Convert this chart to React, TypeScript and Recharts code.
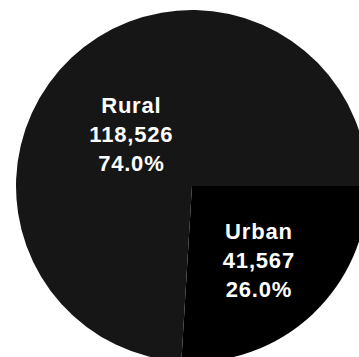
import React from 'react'
import { PieChart, Pie, Cell } from 'recharts'

const categories = ['Urban', 'Rural']
const populations = [41567, 118526]
const sliceColors = ['#000000', '#161616']

const pieData = categories.map((name, i) => ({ name, value: populations[i] }))
const total = populations.reduce((a, b) => a + b, 0)

const RADIAN = Math.PI / 180
// label placement, as fraction of radius and a small angle nudge
const labelRadius = [0.565, 0.455]
const labelNudge = [-1, 6]

const renderLabel = (props: any) => {
  const { cx, cy, midAngle, outerRadius, index, name, value } = props
  const r = outerRadius * labelRadius[index]
  const a = (midAngle + labelNudge[index]) * RADIAN
  const x = cx + r * Math.cos(-a)
  const y = cy + r * Math.sin(-a)
  const pct = ((value / total) * 100).toFixed(1) + '%'
  const lines = [name, value.toLocaleString('en-US'), pct]
  return (
    <text
      x={x}
      y={y}
      fill="#ffffff"
      textAnchor="middle"
      fontFamily="Liberation Sans, Arial, sans-serif"
      fontWeight="bold"
      fontSize={22}
      letterSpacing={0.8}
    >
      {lines.map((t, i) => (
        <tspan key={i} x={x} y={y + (i - 1) * 29 + 8}>
          {t}
        </tspan>
      ))}
    </text>
  )
}

export default function App() {
  return (
    <div style={{ position: 'absolute', left: 0, top: 0, background: '#fff' }}>
      <PieChart width={359} height={357}>
        <Pie
          data={pieData}
          dataKey="value"
          nameKey="name"
          cx={187}
          cy={181}
          outerRadius={176}
          startAngle={0}
          endAngle={-360}
          stroke="none"
          label={renderLabel}
          labelLine={false}
          isAnimationActive={false}
        >
          {pieData.map((d, i) => (
            <Cell key={d.name} fill={sliceColors[i]} />
          ))}
        </Pie>
      </PieChart>
    </div>
  )
}
